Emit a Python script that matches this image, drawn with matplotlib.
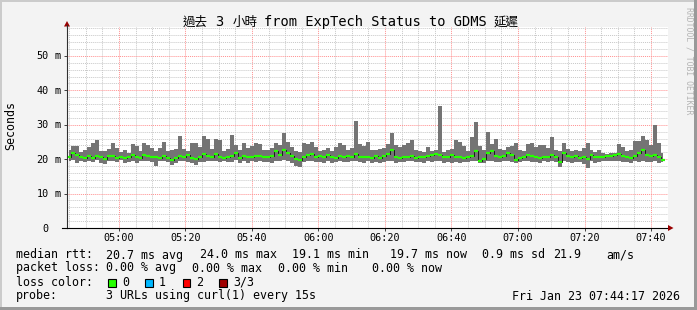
import numpy as np
import matplotlib
matplotlib.use("Agg")
import matplotlib.pyplot as plt
from matplotlib import transforms
from matplotlib.patches import Rectangle, Polygon
from matplotlib.lines import Line2D

# ---------------- data ----------------
t_start = 284.9      # minutes after midnight of first sample
t_step = 1.2         # minutes between samples

smoke_max = [
    22.6, 23.8, 23.9, 22.0, 22.8, 23.4, 24.6, 25.5, 22.4, 22.3,
    23.0, 24.8, 23.3, 22.2, 22.6, 21.8, 24.5, 23.9, 22.5, 24.7,
    24.2, 23.2, 22.4, 23.1, 25.1, 22.5, 22.8, 23.0, 26.7, 22.9,
    22.5, 24.8, 24.6, 23.6, 26.6, 25.8, 23.0, 25.9, 25.6, 22.5,
    22.9, 26.9, 24.0, 22.8, 24.6, 23.1, 23.7, 24.6, 24.4, 22.8,
    22.6, 23.3, 24.6, 24.1, 27.7, 24.9, 23.5, 22.4, 22.0, 24.8,
    24.3, 24.9, 23.6, 22.4, 22.7, 23.1, 22.3, 23.4, 24.7, 24.2,
    22.8, 23.2, 31.1, 24.4, 23.9, 24.9, 22.6, 22.8, 22.9, 23.3,
    24.4, 27.6, 24.1, 23.4, 24.0, 24.6, 25.6, 22.8, 22.3, 22.0,
    23.4, 22.5, 22.8, 35.5, 22.2, 22.6, 23.0, 25.6, 24.9, 23.7,
    22.5, 26.3, 30.9, 23.8, 22.6, 28.0, 24.3, 25.9, 22.9, 22.6,
    23.6, 23.8, 24.6, 22.7, 22.4, 24.5, 24.8, 23.5, 24.2, 24.0,
    23.3, 26.5, 22.8, 22.4, 24.8, 22.9, 22.5, 22.8, 22.4, 23.1,
    24.7, 22.7, 22.2, 22.6, 21.8, 21.6, 21.7, 21.9, 24.3, 23.6,
    22.4, 22.8, 25.2, 25.4, 26.8, 25.5, 24.1, 30.0, 24.6, 21.9,
]
smoke_min = [
    19.6, 19.8, 19.0, 19.4, 19.2, 19.5, 19.3, 19.8, 19.0, 18.7,
    19.6, 19.4, 19.2, 19.7, 18.9, 19.3, 19.5, 19.0, 19.6, 19.4,
    19.5, 19.3, 18.0, 19.4, 19.6, 19.2, 18.2, 18.8, 19.5, 19.4,
    19.2, 19.0, 18.4, 19.1, 19.3, 19.5, 19.4, 19.6, 19.2, 19.5,
    19.1, 19.3, 19.8, 18.9, 19.4, 19.0, 19.6, 19.2, 19.5, 19.3,
    19.3, 19.0, 19.6, 19.4, 19.8, 19.5, 19.0, 17.9, 17.7, 19.2,
    19.4, 19.5, 19.1, 19.3, 19.0, 19.4, 18.9, 19.2, 19.5, 19.3,
    19.1, 19.4, 19.6, 19.2, 19.0, 19.4, 19.0, 19.3, 18.8, 19.2,
    19.5, 19.4, 19.0, 19.3, 19.2, 19.5, 19.4, 19.1, 19.2, 19.0,
    19.5, 19.3, 19.4, 19.5, 19.0, 19.2, 18.9, 19.3, 18.8, 19.1,
    19.2, 19.5, 19.6, 18.8, 19.0, 19.4, 19.6, 19.3, 19.1, 19.4,
    19.5, 19.3, 19.0, 19.2, 19.4, 19.6, 19.3, 19.2, 19.0, 19.4,
    19.1, 19.5, 19.3, 17.6, 19.4, 19.2, 19.0, 19.3, 19.1, 18.7,
    17.5, 19.4, 19.0, 19.3, 19.5, 19.6, 19.4, 19.5, 19.6, 19.3,
    19.2, 19.0, 19.4, 19.2, 19.5, 19.1, 19.3, 19.4, 19.0, 19.2,
]
median_rtt = [
    20.6, 21.8, 21.2, 20.5, 20.2, 20.8, 20.4, 21.0, 20.6, 20.1,
    20.8, 20.9, 20.3, 20.5, 20.2, 20.6, 21.1, 20.7, 20.4, 21.3,
    20.9, 20.5, 20.6, 20.4, 20.8, 20.4, 19.9, 20.3, 20.9, 20.6,
    21.3, 20.2, 20.0, 20.7, 21.4, 20.8, 20.6, 21.5, 20.7, 20.4,
    20.6, 21.0, 21.7, 20.4, 20.9, 20.5, 20.6, 20.8, 21.0, 20.6,
    20.5, 21.0, 22.3, 21.2, 22.6, 21.8, 20.9, 20.0, 19.8, 20.6,
    21.2, 21.4, 20.7, 20.9, 20.5, 21.3, 20.6, 20.4, 20.9, 20.6,
    20.8, 20.7, 21.6, 20.7, 20.5, 20.6, 20.3, 20.8, 20.4, 20.9,
    21.4, 22.8, 20.6, 20.3, 20.7, 20.5, 20.8, 20.4, 20.5, 20.6,
    21.0, 21.3, 21.4, 21.2, 20.7, 20.6, 21.1, 20.5, 20.6, 20.4,
    20.5, 21.0, 22.4, 19.5, 20.1, 21.7, 22.5, 21.0, 20.6, 20.8,
    21.9, 21.2, 19.8, 20.3, 20.5, 21.3, 20.9, 20.6, 20.4, 20.7,
    20.5, 21.2, 20.6, 19.3, 21.8, 20.8, 20.5, 20.9, 20.3, 20.6,
    20.1, 21.2, 20.5, 20.7, 20.6, 20.9, 20.8, 21.1, 21.4, 20.8,
    20.5, 20.3, 21.0, 21.8, 22.7, 21.3, 20.9, 21.2, 20.6, 19.7,
]

x_range = (284.4, 465.1)
y_range = (0, 58.4)
x_ticks = [300, 320, 340, 360, 380, 400, 420, 440, 460]
x_tick_labels = ["05:00", "05:20", "05:40", "06:00", "06:20",
                 "06:40", "07:00", "07:20", "07:40"]
y_ticks = [0, 10, 20, 30, 40, 50]
y_tick_nums = ["0", "10", "20", "30", "40", "50"]
y_tick_units = ["", "m", "m", "m", "m", "m"]

title_parts = ["過去", "3", "小時", "from ExpTech Status to GDMS", "延遲"]
stats_rtt = ["median rtt:", "20.7 ms avg", "24.0 ms max", "19.1 ms min",
             "19.7 ms now", "0.9 ms sd", "21.9", "am/s"]
stats_loss = ["packet loss:", "0.00 % avg", "0.00 % max", "0.00 % min",
              "0.00 % now"]
loss_labels = ["0", "1", "2", "3/3"]
loss_colors = ["#26ff00", "#00b8ff", "#ff0000", "#a00000"]
probe_text = "3 URLs using curl(1) every 15s"
stamp_text = "Fri Jan 23 07:44:17 2026"

# ---------------- layout ----------------
W, H, DPI = 697, 310, 100
L, R, T, B = 67, 668, 27, 228
MONO = "DejaVu Sans Mono"
CJK = "Noto Sans CJK TC"

fig = plt.figure(figsize=(W / DPI, H / DPI), dpi=DPI, facecolor="#f3f3f3")
P = transforms.Affine2D().scale(1.0 / W, -1.0 / H).translate(0, 1) + fig.transFigure

ax = fig.add_axes([L / W, (H - B) / H, (R - L) / W, (B - T) / H])
ax.set_facecolor("white")
ax.set_xlim(*x_range)
ax.set_ylim(*y_range)

ax.set_xticks(x_ticks)
ax.set_xticks(np.arange(285, 466, 5), minor=True)
ax.set_yticks(y_ticks)
ax.set_yticks(np.arange(0, 59, 2), minor=True)
ax.grid(which="minor", color="#c8c8c8", lw=0.7, ls=(0, (1, 1)))
ax.grid(which="major", color="#ff8f8f", lw=0.7, ls=(0, (1, 1)))
ax.set_axisbelow(True)
ax.tick_params(which="minor", length=0)
ax.tick_params(which="major", length=2, width=0.7, color="#404040",
               labelbottom=False, labelleft=False)
for s in ["top", "right"]:
    ax.spines[s].set_visible(False)
ax.spines["left"].set_color("#303030")
ax.spines["bottom"].set_color("#000000")
ax.spines["left"].set_linewidth(0.8)
ax.spines["bottom"].set_linewidth(0.8)

times = t_start + t_step * np.arange(len(median_rtt))
ax.fill_between(times, smoke_min, smoke_max, step="mid", color="#747474", lw=0)
ax.step(times, median_rtt, where="mid", color="#1a1a1a", lw=0.7)
ax.hlines(median_rtt, times - t_step / 2, times + t_step / 2,
          color=loss_colors[0], lw=1.6)

# tick labels
xlab_tr = transforms.blended_transform_factory(ax.transData, P)
for xv, lab in zip(x_ticks, x_tick_labels):
    ax.text(xv, 241, lab, transform=xlab_tr, ha="center", va="baseline",
            family=MONO, fontsize=7.3, color="#000000", clip_on=False)
ylab_tr = transforms.offset_copy(
    transforms.blended_transform_factory(P, ax.transData),
    fig=fig, x=0, y=-3.5 * 72 / DPI, units="points")
for yv, num, unit in zip(y_ticks, y_tick_nums, y_tick_units):
    fig.text(48.7, yv, num, transform=ylab_tr, ha="right", va="baseline",
             family=MONO, fontsize=7.3, color="#000000")
    if unit:
        fig.text(54.8, yv, unit, transform=ylab_tr, ha="left", va="baseline",
                 family=MONO, fontsize=7.3, color="#000000")

# axis extensions and arrows
fig.add_artist(Line2D([L - 5, L], [B, B], transform=P, color="#000000", lw=0.8))
fig.add_artist(Line2D([L, L], [T, T - 2], transform=P, color="#303030", lw=0.8))
fig.add_artist(Polygon([(L - 3, T - 0.5), (L + 3, T - 0.5), (L, T - 6)],
                       closed=True, transform=P, color="#990000", lw=0))
fig.add_artist(Polygon([(R, B - 3), (R, B + 3), (R + 5.5, B)],
                       closed=True, transform=P, color="#990000", lw=0))

# title
fig.text(182.5, 26, title_parts[0], transform=P, family=CJK, fontsize=9,
         ha="left", va="baseline")
fig.text(215.5, 26, title_parts[1], transform=P, family=MONO, fontsize=9.9,
         ha="left", va="baseline")
fig.text(232.5, 26, title_parts[2], transform=P, family=CJK, fontsize=9,
         ha="left", va="baseline")
fig.text(264.5, 26, title_parts[3], transform=P, family=MONO, fontsize=9.9,
         ha="left", va="baseline")
fig.text(493.5, 26, title_parts[4], transform=P, family=CJK, fontsize=9,
         ha="left", va="baseline")

# y label and credit
fig.text(10.5, 126, "Seconds", transform=P, family=MONO, fontsize=8.4,
         rotation=90, ha="center", va="center")
fig.text(688.5, 61, "RRDTOOL / TOBI OETIKER", transform=P, family=MONO,
         fontsize=5.9, rotation=270, ha="center", va="center", color="#b4b4b4")

# legend / stats
fs = 8.4
rtt_x = [15.5, 106.5, 199.5, 292, 390.5, 481.5, 553.5, 606.5]
for xx, s in zip(rtt_x, stats_rtt):
    fig.text(xx, 258.5, s, transform=P, family=MONO, fontsize=fs,
             ha="left", va="baseline")
loss_x = [15.5, 106.5, 192.5, 278.5, 371.5]
for xx, s in zip(loss_x, stats_loss):
    fig.text(xx, 271.5, s, transform=P, family=MONO, fontsize=fs,
             ha="left", va="baseline")
fig.text(15.5, 285.5, "loss color:", transform=P, family=MONO, fontsize=fs,
         ha="left", va="baseline")
box_x = [108.3, 145.0, 182.5, 219.0]
lab_x = [122.5, 159.0, 196.0, 233.5]
for bx, lx, lab, col in zip(box_x, lab_x, loss_labels, loss_colors):
    fig.add_artist(Rectangle((bx, 279.3), 7.7, 7.4, transform=P,
                             facecolor=col, edgecolor="#000000", lw=0.8))
    fig.text(lx, 285.5, lab, transform=P, family=MONO, fontsize=fs,
             ha="left", va="baseline")
fig.text(15.5, 299.5, "probe:", transform=P, family=MONO, fontsize=fs,
         ha="left", va="baseline")
fig.text(106.5, 299.5, probe_text, transform=P, family=MONO, fontsize=fs,
         ha="left", va="baseline")
fig.text(512.5, 299.5, stamp_text, transform=P, family=MONO, fontsize=fs,
         ha="left", va="baseline")

# 3D frame
fig.add_artist(Rectangle((0, 0), W, 2, transform=P, color="#cbcbcb", lw=0))
fig.add_artist(Rectangle((0, 0), 2, H, transform=P, color="#cbcbcb", lw=0))
fig.add_artist(Rectangle((0, H - 3), W, 3, transform=P, color="#999999", lw=0))
fig.add_artist(Rectangle((W - 3, 0), 3, H, transform=P, color="#999999", lw=0))

fig.savefig("out.png", dpi=DPI, facecolor=fig.get_facecolor())
